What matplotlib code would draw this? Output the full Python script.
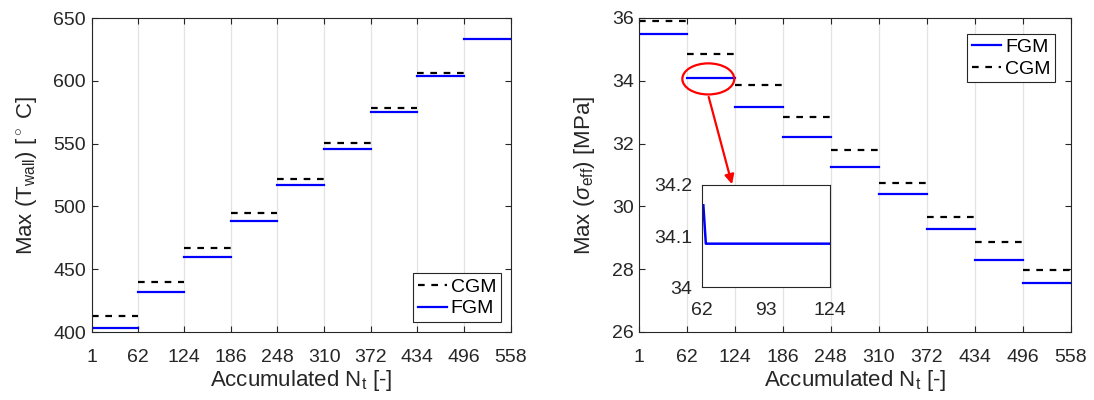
import matplotlib
matplotlib.use("Agg")
from matplotlib import pyplot as plt
from matplotlib.patches import Ellipse

plt.rcParams['font.family'] = ['Liberation Sans', 'DejaVu Sans']
plt.rcParams['mathtext.fontset'] = 'custom'
plt.rcParams['mathtext.rm'] = 'Liberation Sans'
plt.rcParams['mathtext.it'] = 'Liberation Sans:italic'

# cycle boundaries (accumulated N_t)
edges = [1, 62, 124, 186, 248, 310, 372, 434, 496, 558]

# left panel: max wall temperature per block
t_fgm = [403.4, 431.7, 460.0, 488.0, 516.7, 545.5, 575.0, 604.2, 633.6]
t_cgm = [413.0, 440.0, 467.0, 494.5, 522.0, 550.2, 578.3, 606.4]

# right panel: max effective stress per block
s_fgm = [35.48, 34.09, 33.15, 32.22, 31.24, 30.39, 29.29, 28.29, 27.57]
s_cgm = [35.90, 34.86, 33.88, 32.85, 31.79, 30.76, 29.66, 28.88, 27.97]

# inset: zoom on block 62-124
inset_x = [62.8, 64, 124]
inset_y = [34.16, 34.085, 34.085]

TXT = '#262626'
DASH = (0, (3, 3))


def style_axes(ax):
    ax.set_xlim(1, 558)
    ax.set_xticks(edges)
    ax.grid(axis='x', color='#e3e3e3', linewidth=0.9)
    ax.set_axisbelow(True)
    ax.tick_params(direction='in', length=4, top=True, right=True,
                   labelsize=14, colors=TXT, pad=4)
    ax.tick_params(axis='x', pad=12)
    for s in ax.spines.values():
        s.set_color(TXT)
        s.set_linewidth(0.8)
    ax.set_xlabel(r'Accumulated N$_{\mathrm{t}}$ [-]', fontsize=16, color=TXT, labelpad=2)


fig = plt.figure(figsize=(10.94, 4.0), dpi=100)

# ---- left panel
ax1 = fig.add_axes([0.0838, 0.17, 0.383, 0.785])
style_axes(ax1)
for i, v in enumerate(t_cgm):
    ax1.plot([edges[i], edges[i + 1]], [v, v], color='k', lw=1.6, linestyle=DASH,
             label='CGM' if i == 0 else None)
for i, v in enumerate(t_fgm):
    ax1.plot([edges[i], edges[i + 1]], [v, v], color='b', lw=1.6,
             label='FGM' if i == 0 else None)
ax1.set_ylim(400, 650)
ax1.set_yticks([400, 450, 500, 550, 600, 650])
ax1.set_ylabel(r'Max (T$_{\mathrm{wall}}$) [$^\circ$ C]', fontsize=16, color=TXT, labelpad=10)
leg1 = ax1.legend(loc='lower right', fontsize=14, fancybox=False, framealpha=1,
                  edgecolor=TXT, handlelength=1.5, handletextpad=0.2,
                  borderpad=0.25, labelspacing=0.2, borderaxespad=0.5)
leg1.get_frame().set_linewidth(0.8)

# ---- right panel
ax2 = fig.add_axes([0.5844, 0.17, 0.3946, 0.785])
style_axes(ax2)
for i, v in enumerate(s_fgm):
    ax2.plot([edges[i], edges[i + 1]], [v, v], color='b', lw=1.6,
             label='FGM' if i == 0 else None)
for i, v in enumerate(s_cgm):
    ax2.plot([edges[i], edges[i + 1]], [v, v], color='k', lw=1.6, linestyle=DASH,
             label='CGM' if i == 0 else None)
ax2.set_ylim(26, 36)
ax2.set_yticks([26, 28, 30, 32, 34, 36])
ax2.set_ylabel(r'Max ($\sigma_{\mathrm{eff}}$) [MPa]', fontsize=16, color=TXT, labelpad=11)
leg2 = ax2.legend(loc='upper right', fontsize=14, fancybox=False, framealpha=1,
                  edgecolor=TXT, handlelength=1.5, handletextpad=0.2,
                  borderpad=0.25, labelspacing=0.2, borderaxespad=0.8)
leg2.get_frame().set_linewidth(0.8)

# red ellipse + arrow to inset
ax2.add_patch(Ellipse((90, 34.06), 67, 0.99, fill=False, edgecolor='r', lw=1.6, zorder=5))
ax2.annotate('', xy=(121.5, 30.62), xytext=(89.6, 33.57),
             arrowprops=dict(arrowstyle='-|>', color='r', lw=1.6, mutation_scale=14))

# ---- inset
axi = fig.add_axes([0.6414, 0.282, 0.1173, 0.256])
axi.plot(inset_x, inset_y, color='b', lw=1.8)
axi.set_xlim(62, 124)
axi.set_ylim(34, 34.2)
axi.set_xticks([62, 93, 124])
axi.set_yticks([34, 34.1, 34.2])
axi.set_yticklabels(['34', '34.1', '34.2'])
axi.tick_params(direction='in', length=0, labelsize=14, colors=TXT)
axi.tick_params(axis='y', pad=7)
axi.tick_params(axis='x', pad=11)
for s in axi.spines.values():
    s.set_color(TXT)
    s.set_linewidth(0.8)

plt.savefig('out.png', dpi=100)
plt.close()
